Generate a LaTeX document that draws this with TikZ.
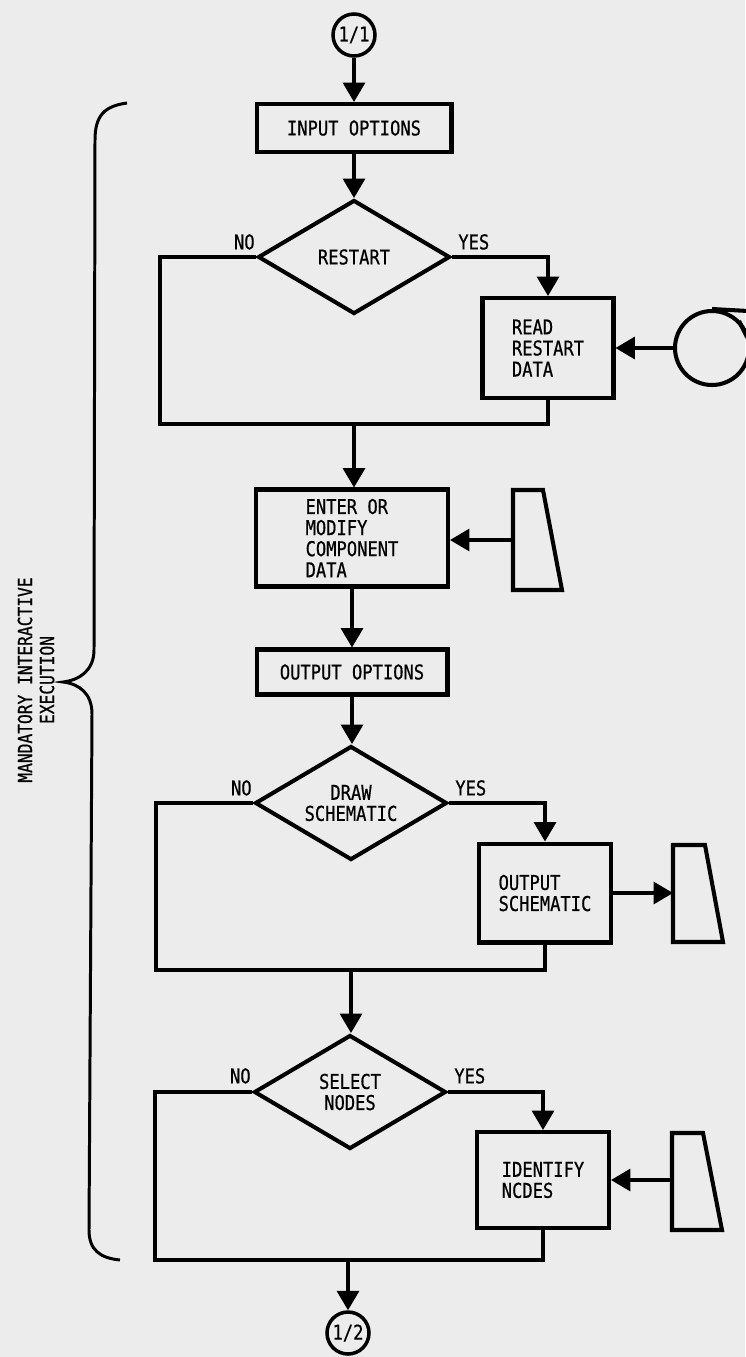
\documentclass[tikz,border=0pt]{standalone}
\usepackage{fontspec}
\newfontfamily\lettering[FakeStretch=0.84,FakeBold=0.6]{DejaVu Sans Mono}
\usetikzlibrary{shapes.geometric,arrows.meta,calc}
\definecolor{paper}{RGB}{236,236,236}
\begin{document}
\begin{tikzpicture}[x=0.02cm,y=-0.02cm,
 font=\lettering\fontsize{11.6}{12}\selectfont,
 box/.style={draw,line width=2.3pt,rectangle,inner sep=0pt,align=left},
 decision/.style={draw,line width=2.3pt,diamond,aspect=1.7,inner sep=0pt,minimum width=3.84cm,minimum height=2.28cm,align=center},
 conn/.style={draw,line width=2pt,circle,minimum size=0.84cm,inner sep=0pt},
 flow/.style={line width=1.8pt},
 arr/.style={flow,-{Triangle[width=12.5pt,length=11pt]}},
 lbl/.style={inner sep=0pt},
 symb/.style={line width=2.3pt,line join=miter}
]
\fill[paper] (0,0) rectangle (745,1357);
\useasboundingbox (0,0) rectangle (745,1357);

% nodes
\node[conn] (c11) at (354,35) {1/1};
\node[box,minimum width=3.9cm,minimum height=0.96cm] (inopt) at (354,128) {INPUT OPTIONS};
\node[decision] (restart) at (354,257) {RESTART};
\node[box,minimum width=2.62cm,minimum height=2.0cm] (readrs) at (548,348) {READ\\RESTART\\DATA};
\node[draw,circle,line width=2.3pt,minimum size=1.48cm,inner sep=0pt] (tape) at (712,348) {};
\node[box,minimum width=3.84cm,minimum height=1.94cm] (enter) at (352,538) {ENTER OR\\MODIFY\\COMPONENT\\DATA};
\node[box,minimum width=3.82cm,minimum height=0.9cm] (outopt) at (352,672) {OUTPUT OPTIONS};
\node[decision] (drawsch) at (351,803) {DRAW\\SCHEMATIC};
\node[box,minimum width=2.64cm,minimum height=1.98cm] (outsch) at (545,893) {OUTPUT\\SCHEMATIC};
\node[decision] (select) at (350,1092) {SELECT\\NODES};
\node[box,minimum width=2.64cm,minimum height=1.92cm] (ident) at (543,1180) {IDENTIFY\\NCDES};
\node[conn] (c12) at (348,1333) {1/2};

% labels
\node[lbl,anchor=south east] (no1) at ([shift={(-1,-7)}]restart.west) {NO};
\node[lbl,anchor=south west] (yes1) at ([shift={(6,-7)}]restart.east) {YES};
\node[lbl,anchor=south east] (no2) at ([shift={(-1,-7)}]drawsch.west) {NO};
\node[lbl,anchor=south west] (yes2) at ([shift={(6,-7)}]drawsch.east) {YES};
\node[lbl,anchor=south east] (no3) at ([shift={(-1,-8)}]select.west) {NO};
\node[lbl,anchor=south west] (yes3) at ([shift={(6,-8)}]select.east) {YES};

% junction coordinates
\coordinate (nw1) at (160,424);
\coordinate (j1) at (354,424);
\coordinate (nw2) at (156,970);
\coordinate (j2) at (351,970);
\coordinate (nw3) at (155,1260);
\coordinate (j3) at (348,1260);

% main flow
\draw[arr] (c11.south) -- (c11.south |- inopt.north);
\draw[arr] (inopt.south) -- (inopt.south |- restart.north);
\draw[flow] (restart.west) -| (nw1) -| (readrs.south);
\draw[arr] (restart.east) -| (readrs.north);
\draw[arr] (j1) -- (j1 |- enter.north);
\draw[arr] (enter.south) -- (enter.south |- outopt.north);
\draw[arr] (outopt.south) -- (outopt.south |- drawsch.north);
\draw[flow] (drawsch.west) -| (nw2) -| (outsch.south);
\draw[arr] (drawsch.east) -| (outsch.north);
\draw[arr] (j2) -- (j2 |- select.north);
\draw[flow] (select.west) -| (nw3) -| (ident.south);
\draw[arr] (select.east) -| (ident.north);
\draw[arr] (j3) -- (j3 |- c12.north);

% tape
\draw[symb] (tape.north) -- (748,311);
\draw[symb] (739,321) -- (747,337);
\draw[arr] (tape.west) -- (readrs.east |- tape.west);

% keyboard / display symbols
\draw[symb] (513,490) -- (543,490) -- (562,590) -- (513,590) -- cycle;
\coordinate (k1) at (513,540);
\draw[arr] (k1) -- (enter.east |- k1);

\draw[symb] (673,845) -- (705,845) -- (723,942) -- (673,942) -- cycle;
\coordinate (k2) at (673,893);
\draw[arr] (outsch.east) -- (k2);

\draw[symb] (672,1133) -- (703,1133) -- (722,1230) -- (672,1230) -- cycle;
\coordinate (k3) at (672,1180);
\draw[arr] (k3) -- (ident.east |- k3);

% brace
\draw[line width=1.7pt] (127,103) .. controls (105,106) and (95,115) .. (95,140)
  -- (94,650) .. controls (94,670) and (80,680) .. (63,682)
  .. controls (80,684) and (92,694) .. (92,714)
  -- (89,1230) .. controls (89,1250) and (100,1258) .. (120,1260);
\node[rotate=90,align=center,inner sep=0pt,font=\lettering\fontsize{11}{12.5}\selectfont] (brlbl) at (36,680) {MANDATORY INTERACTIVE\\EXECUTION};
\end{tikzpicture}
\end{document}
